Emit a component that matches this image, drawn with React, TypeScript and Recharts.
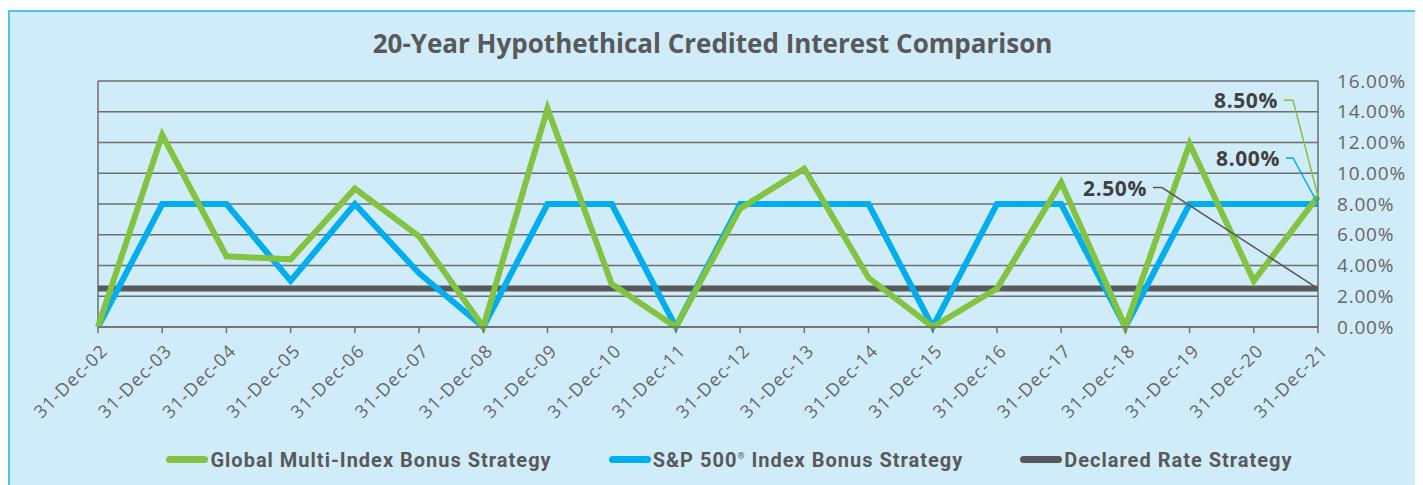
import { LineChart, Line, XAxis, YAxis, CartesianGrid, Legend, ReferenceLine } from "recharts";

const dates = [
  "31-Dec-02", "31-Dec-03", "31-Dec-04", "31-Dec-05", "31-Dec-06", "31-Dec-07", "31-Dec-08",
  "31-Dec-09", "31-Dec-10", "31-Dec-11", "31-Dec-12", "31-Dec-13", "31-Dec-14", "31-Dec-15",
  "31-Dec-16", "31-Dec-17", "31-Dec-18", "31-Dec-19", "31-Dec-20", "31-Dec-21",
];
// credited rates in %
const globalMulti = [0, 12.5, 4.6, 4.4, 9.0, 5.9, 0, 14.2, 2.8, 0, 7.7, 10.3, 3.2, 0, 2.5, 9.4, 0, 11.9, 3.0, 8.5];
const sp500 = [0, 8, 8, 3.0, 8, 3.5, 0, 8, 8, 0, 8, 8, 8, 0, 8, 8, 0, 8, 8, 8];
const declared = [2.5, 2.5, 2.5, 2.5, 2.5, 2.5, 2.5, 2.5, 2.5, 2.5, 2.5, 2.5, 2.5, 2.5, 2.5, 2.5, 2.5, 2.5, 2.5, 2.5];
const yTicks = [0, 2, 4, 6, 8, 10, 12, 14, 16];

const GREEN = "#82c341";
const BLUE = "#00aeef";
const DARK = "#58595b";
const GRID = "#6d6e71";
const TEXT = "#58595b";

const chartData = dates.map((d, i) => ({
  date: d,
  global: globalMulti[i],
  sp: sp500[i],
  declared: declared[i],
}));

const last = dates.length - 1;

// end-of-series callout: text + leader line to the last point
const endLabel = (color: string, tx: number, ty: number, knee: number) => (props: any) => {
  const { x, y, index, value } = props;
  if (index !== last) return null;
  return (
    <g>
      <text
        x={x + tx}
        y={y + ty}
        textAnchor="end"
        dominantBaseline="central"
        fontFamily="'Open Sans', sans-serif"
        fontWeight={700}
        fontSize={21}
        letterSpacing={0.6}
        fill="#414042"
      >
        {`${Number(value).toFixed(2)}%`}
      </text>
      <polyline
        points={`${x + tx + 6},${y + ty} ${x + knee},${y + ty} ${x},${y}`}
        fill="none"
        stroke={color}
        strokeWidth={1.5}
      />
    </g>
  );
};

const XTick = ({ x, y, payload }: any) => (
  <text
    x={x + 6}
    y={y + 12}
    transform={`rotate(-45, ${x + 6}, ${y + 12})`}
    textAnchor="end"
    dominantBaseline="central"
    fontFamily="'Open Sans', sans-serif"
    fontWeight={400}
    fontSize={18}
    letterSpacing={1.2}
    fill="#666"
  >
    {payload.value}
  </text>
);

const legendItems = [
  { color: GREEN, label: <>Global Multi-Index Bonus Strategy</> },
  { color: BLUE, label: <>S&amp;P 500<sup style={{ fontSize: 9 }}>®</sup> Index Bonus Strategy</> },
  { color: DARK, label: <>Declared Rate Strategy</> },
];

const LegendContent = () => (
  <div
    style={{
      height: 45,
      display: "flex",
      justifyContent: "center",
      alignItems: "center",
      gap: 57,
      paddingLeft: 34,
      fontFamily: "Roboto, sans-serif",
      fontWeight: 700,
      fontSize: 20,
      letterSpacing: 1,
      color: TEXT,
    }}
  >
    {legendItems.map((it, i) => (
      <div key={i} style={{ display: "flex", alignItems: "center" }}>
        <span style={{ width: 42, height: 7, borderRadius: 4, background: it.color, marginRight: 2 }} />
        <span>{it.label}</span>
      </div>
    ))}
  </div>
);

export default function App() {
  return (
    <div
      style={{
        position: "relative",
        marginTop: 2,
        width: 1409,
        height: 490,
        boxSizing: "border-box",
        border: "2px solid #4dc3f2",
        background: "#d1ecf9",
      }}
    >
      <div
        style={{
          position: "absolute",
          top: 17,
          left: 0,
          width: 1405,
          textAlign: "center",
          fontFamily: "'Open Sans', sans-serif",
          fontWeight: 700,
          fontSize: 26,
          lineHeight: "28px",
          color: TEXT,
        }}
      >
        20-Year Hypothethical Credited Interest Comparison
      </div>
      <div style={{ position: "absolute", top: 0, left: 0 }}>
        <LineChart width={1405} height={470} data={chartData} margin={{ top: 69, right: 10, left: 88, bottom: 0 }}>
          <CartesianGrid vertical={false} stroke={GRID} strokeWidth={1.5} />
          <XAxis
            dataKey="date"
            interval={0}
            height={110}
            tick={<XTick />}
            tickSize={6}
            tickLine={{ stroke: GRID, strokeWidth: 1.5 }}
            axisLine={{ stroke: GRID, strokeWidth: 1.5 }}
          />
          <YAxis
            orientation="right"
            width={87}
            domain={[0, 16]}
            ticks={yTicks}
            interval={0}
            tickSize={0}
            tickMargin={19}
            tickFormatter={(v: number) => `${v.toFixed(2)}%`}
            tick={{ fill: "#666", fontSize: 19, letterSpacing: 0.8, fontFamily: "'Open Sans', sans-serif", fontWeight: 400 }}
            axisLine={{ stroke: GRID, strokeWidth: 1.5 }}
          />
          <ReferenceLine x={dates[0]} stroke={GRID} strokeWidth={1.5} />
          <Legend verticalAlign="bottom" content={<LegendContent />} wrapperStyle={{ left: 0, width: 1405 }} />
          <Line
            dataKey="declared"
            stroke={DARK}
            strokeWidth={6}
            dot={false}
            activeDot={false}
            isAnimationActive={false}
          />
          <Line
            dataKey="sp"
            stroke={BLUE}
            strokeWidth={6}
            dot={false}
            activeDot={false}
            isAnimationActive={false}
            label={endLabel(BLUE, -38, -46, -25)}
          />
          <Line
            dataKey="global"
            stroke={GREEN}
            strokeWidth={6}
            dot={false}
            activeDot={false}
            isAnimationActive={false}
            label={endLabel(GREEN, -40, -96, -25)}
          />
          <Line
            dataKey="declared"
            stroke="none"
            dot={false}
            activeDot={false}
            legendType="none"
            isAnimationActive={false}
            label={endLabel(DARK, -171, -101, -156)}
          />
        </LineChart>
      </div>
    </div>
  );
}
